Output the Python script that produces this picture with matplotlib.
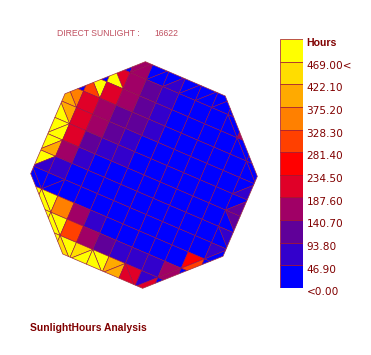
import numpy as np
import matplotlib
matplotlib.use('Agg')
import matplotlib.pyplot as plt
from matplotlib.collections import PolyCollection
from matplotlib.colors import ListedColormap, BoundaryNorm
from matplotlib.patches import Polygon

# legend, bottom to top
COLORS = ['#0000ff', '#3300cc', '#600099', '#a00066', '#e00028', '#ff0000',
          '#ff4000', '#ff8000', '#ffaa00', '#ffdd00', '#ffff00']
LABELS = ['<0.00', '46.90', '93.80', '140.70', '187.60', '234.50', '281.40',
          '328.30', '375.20', '422.10', '469.00<', 'Hours']

# colour band of each mesh cell, rows along b, columns along a
LEVELS = [
    [0, 0, 0,  3, 0, 0, 0, 0, 0, 0, 0, 0],
    [0, 0, 4,  3, 2, 1, 0, 0, 0, 0, 3, 0],
    [0, 10, 4, 3, 2, 1, 0, 0, 0, 0, 0, 0],
    [7, 4, 3,  2, 2, 1, 0, 0, 0, 0, 0, 0],
    [8, 4, 3,  2, 1, 0, 0, 0, 0, 0, 0, 0],
    [10, 4, 2, 1, 1, 0, 0, 0, 0, 0, 0, 0],
    [10, 3, 1, 0, 0, 0, 0, 0, 0, 0, 0, 2],
    [10, 1, 0, 0, 0, 0, 0, 0, 0, 0, 0, 1],
    [0, 0, 0,  0, 0, 0, 0, 0, 0, 0, 0, 1],
    [10, 10, 7, 3, 1, 0, 0, 0, 0, 0, 5, 0],
    [0, 10, 10, 6, 3, 2, 1, 1, 1, 3, 0, 0],
    [0, 0, 10, 10, 9, 10, 8, 4, 1, 0, 0, 0],
]
# second triangle for the split cells on the rim, -1 = plain quad
SECOND = [
    [-1, -1, -1, 3, 0, 1, 0, 0, 0, -1, -1, -1],
    [-1, -1, 10, -1, -1, -1, -1, -1, -1, 0, -1, -1],
    [-1, 6, -1, -1, -1, -1, -1, -1, -1, -1, 0, -1],
    [8, -1, -1, -1, -1, -1, -1, -1, -1, -1, -1, 0],
    [10, -1, -1, -1, -1, -1, -1, -1, -1, -1, -1, 1],
    [10, -1, -1, -1, -1, -1, -1, -1, -1, -1, -1, 2],
    [8, -1, -1, -1, -1, -1, -1, -1, -1, -1, -1, 0],
    [1, -1, -1, -1, -1, -1, -1, -1, -1, -1, -1, 0],
    [0, 0, -1, -1, -1, -1, -1, -1, -1, -1, -1, 0],
    [-1, 10, -1, -1, -1, -1, -1, -1, -1, -1, 6, -1],
    [-1, -1, 10, -1, -1, -1, -1, -1, -1, 3, -1, -1],
    [-1, -1, -1, 9, 10, 10, 8, 4, 4, -1, -1, -1],
]
# rim cells whose diagonal runs the other way round
FLIPPED = [(3, 0), (6, 0), (2, 1), (1, 2), (0, 4), (0, 6), (0, 8), (5, 11), (6, 11)]
OCTAGON = [(-2.45, -5.9), (2.45, -5.9), (5.9, -2.45), (5.9, 2.45),
           (2.45, 5.9), (-2.45, 5.9), (-5.9, 2.45), (-5.9, -2.45)]

fig = plt.figure(figsize=(3.71, 3.55), dpi=100)
ax = fig.add_axes([0, 0, 1, 1])
ax.set_xlim(0, 371)
ax.set_ylim(355, 0)
ax.axis('off')

centre = np.array([144.0, 175.0])
u = np.array([16.3, 7.0])
v = np.array([-7.0, 16.3])


def to_px(pts):
    pts = np.asarray(pts, dtype=float)
    return centre + pts[:, :1] * u + pts[:, 1:] * v


polys = []
vals = []
for j in range(12):
    for i in range(12):
        a0, b0 = i - 6, j - 6
        a1, b1 = a0 + 1, b0 + 1
        lev = LEVELS[j][i]
        sec = SECOND[j][i]
        even = (i + j) % 2 == 0
        if (j, i) in FLIPPED:
            even = not even
        if sec < 0:
            polys.append(to_px([(a0, b0), (a1, b0), (a1, b1), (a0, b1)]))
            vals.append(lev)
        elif even:
            polys.append(to_px([(a0, b0), (a1, b0), (a1, b1)]))
            vals.append(lev)
            polys.append(to_px([(a0, b0), (a1, b1), (a0, b1)]))
            vals.append(sec)
        else:
            polys.append(to_px([(a0, b0), (a1, b0), (a0, b1)]))
            vals.append(lev)
            polys.append(to_px([(a1, b0), (a1, b1), (a0, b1)]))
            vals.append(sec)

cmap = ListedColormap(COLORS)
norm = BoundaryNorm(np.arange(-0.5, 11.5), cmap.N)
outline = Polygon(to_px(OCTAGON), closed=True, fc='none', ec='#a03040', lw=0.5, zorder=3)
ax.add_patch(outline)
mesh = PolyCollection(polys, array=np.array(vals), cmap=cmap, norm=norm,
                      edgecolors='#90104a', linewidths=0.42, zorder=2)
ax.add_collection(mesh)
mesh.set_clip_path(outline)

# legend column
cax = fig.add_axes([280 / 371, 1 - 288 / 355, 23 / 371, 249 / 355])
cax.bar(np.zeros(11), np.ones(11), bottom=np.arange(11), width=1, align='center',
        color=COLORS, edgecolor='#a01030', linewidth=0.5)
cax.set_xlim(-0.5, 0.5)
cax.set_ylim(0, 11)
cax.axis('off')
for k, lab in enumerate(LABELS):
    cax.annotate(lab, xy=(0.5, k), xytext=(2.5, -3), textcoords='offset points',
                 fontsize=7.6, color='#800000', va='center', annotation_clip=False,
                 family='Liberation Sans' if k == 11 else 'DejaVu Sans',
                 fontweight='bold' if k == 11 else 'normal')

ax.text(57, 33, 'DIRECT SUNLIGHT :', fontsize=6.2, color='#c05060', va='center',
        family='Liberation Sans')
ax.text(154, 33, '16622', fontsize=6.2, color='#c05060', va='center', family='Liberation Sans')
ax.text(30, 328, 'SunlightHours Analysis', fontsize=7.4, color='#800000', va='center',
        family='Liberation Sans', fontweight='bold')

fig.savefig('out.png', dpi=100)
